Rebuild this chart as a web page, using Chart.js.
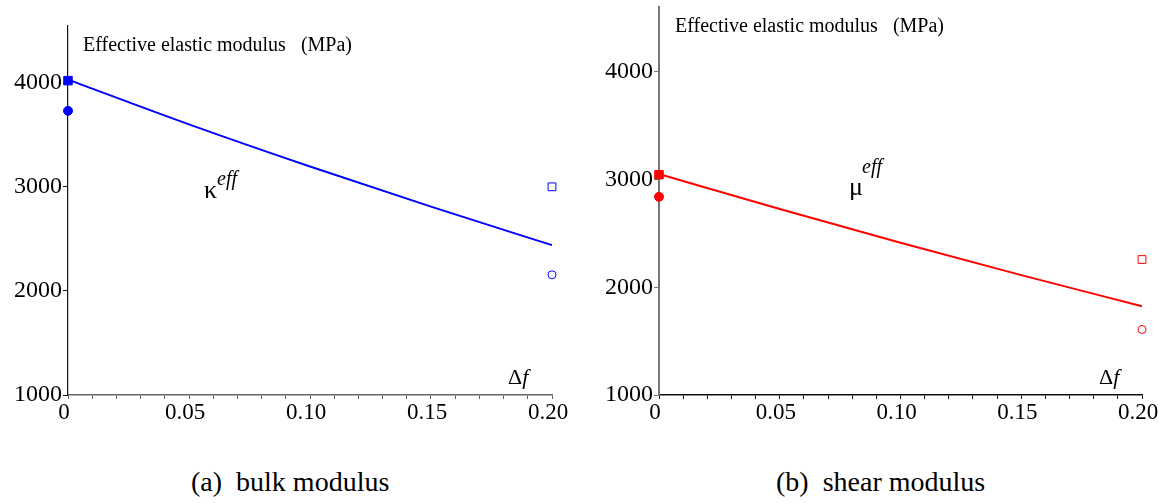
<!DOCTYPE html>
<html>
<head>
<meta charset="utf-8">
<script src="https://cdn.jsdelivr.net/npm/chart.js@4.4.1/dist/chart.umd.min.js"></script>
<style>
  body { margin: 0; background: #fff; width: 1158px; height: 503px; position: relative; overflow: hidden; font-family: "Liberation Serif", "Times New Roman", serif; }
  canvas { position: absolute; top: 0; }
  .txt { position: absolute; font-family: "Liberation Serif", "Times New Roman", serif; color: #000; white-space: pre; line-height: 1; }
  .it { font-style: italic; }
</style>
</head>
<body>
<canvas id="bulk" width="579" height="440" style="left:0"></canvas>
<canvas id="shear" width="579" height="440" style="left:579px"></canvas>

<div class="txt" style="left:83px;top:34px;font-size:20px">Effective elastic modulus   (MPa)</div>
<div class="txt" style="left:675px;top:15px;font-size:20px">Effective elastic modulus   (MPa)</div>
<div class="txt" style="left:204px;top:177px;font-size:26px">κ</div>
<div class="txt it" style="left:217px;top:168px;font-size:20px">eff</div>
<div class="txt" style="left:849px;top:174px;font-size:26px">μ</div>
<div class="txt it" style="left:862px;top:156px;font-size:20px">eff</div>
<div class="txt" style="left:508px;top:366px;font-size:22px">Δ<span class="it">f</span></div>
<div class="txt" style="left:1099px;top:366px;font-size:22px">Δ<span class="it">f</span></div>
<div class="txt" style="left:191px;top:468px;font-size:28px">(a)  bulk modulus</div>
<div class="txt" style="left:776px;top:468px;font-size:28px">(b)  shear modulus</div>

<script>
// porosity change, x positions of the fitted curve
const deltaF = [0, 0.05, 0.10, 0.15, 0.20];
const bulkCurve = [4030, 3600, 3195, 2810, 2440];
const shearCurve = [3050, 2725, 2412, 2112, 1824];

// measured points at the two ends (filled at 0, open at 0.20)
const endX = [0, 0.20];
const bulkSquares = [4020, 3000];
const bulkCircles = [3730, 2155];
const shearSquares = [3044, 2257];
const shearCircles = [2839, 1608];

const yTicks = [1000, 2000, 3000, 4000];

const FONT = "Liberation Serif";

function pts(xs, ys) {
  return xs.map((x, i) => ({ x: x, y: ys[i] }));
}

function makeChart(id, color, curve, squares, circles, opts) {
  const ctx = document.getElementById(id).getContext("2d");
  return new Chart(ctx, {
    type: "scatter",
    data: {
      datasets: [
        {
          data: pts(deltaF, curve),
          showLine: true,
          borderColor: color,
          borderWidth: 2,
          pointRadius: 0,
          tension: 0.4,
          cubicInterpolationMode: "monotone",
          clip: false,
        },
        {
          data: pts(endX, squares),
          pointStyle: "rect",
          pointRadius: [6, 5.5],
          pointBackgroundColor: [color, "#fff"],
          pointBorderColor: color,
          pointBorderWidth: 1,
          clip: false,
        },
        {
          data: pts(endX, circles),
          pointStyle: "circle",
          pointRadius: [4.5, 4],
          pointBackgroundColor: [color, "#fff"],
          pointBorderColor: color,
          pointBorderWidth: 1,
          clip: false,
        },
      ],
    },
    options: {
      responsive: false,
      animation: false,
      events: [],
      layout: { padding: { left: 0, top: opts.top, right: opts.right, bottom: 0 } },
      plugins: { legend: { display: false }, tooltip: { enabled: false } },
      scales: {
        x: {
          type: "linear",
          min: 0,
          max: 0.2,
          border: { display: true, color: opts.xAxisColor, width: 1.5 },
          grid: { drawOnChartArea: false, drawTicks: true, tickLength: 4, color: opts.xAxisColor },
          ticks: {
            stepSize: 0.01,
            autoSkip: false,
            maxRotation: 0,
            padding: 0,
            labelOffset: -4,
            color: "#000",
            font: { family: FONT, size: 23 },
            callback: function (v) {
              const k = Math.round(v * 100);
              if (k % 5 !== 0) return "";
              return k === 0 ? "0" : (k / 100).toFixed(2);
            },
          },
          afterFit: function (scale) {
            scale.height = 45;
            scale.paddingLeft = 0;
            scale.paddingRight = 0;
          },
        },
        y: {
          type: "linear",
          min: 1000,
          max: opts.yMax,
          border: { display: true, color: opts.yAxisColor, width: opts.yAxisWidth },
          grid: { drawOnChartArea: false, drawTicks: true, tickLength: 5, color: opts.yAxisColor },
          afterBuildTicks: function (scale) {
            scale.ticks = yTicks.map((v) => ({ value: v }));
          },
          ticks: {
            padding: 1,
            color: "#000",
            font: { family: FONT, size: 24 },
            callback: (v) => String(v),
          },
          afterFit: function (scale) {
            scale.width = opts.left;
            scale.paddingTop = 0;
            scale.paddingBottom = 0;
          },
        },
      },
    },
  });
}

makeChart("bulk", "#0000ff", bulkCurve, bulkSquares, bulkCircles, {
  top: 26, right: 27, left: 68, yMax: 4545,
  xAxisColor: "#666", yAxisColor: "#111", yAxisWidth: 1.2,
});

makeChart("shear", "#ff0000", shearCurve, shearSquares, shearCircles, {
  top: 7, right: 16, left: 80, yMax: 4600,
  xAxisColor: "#111", yAxisColor: "#777", yAxisWidth: 2,
});
</script>
</body>
</html>
